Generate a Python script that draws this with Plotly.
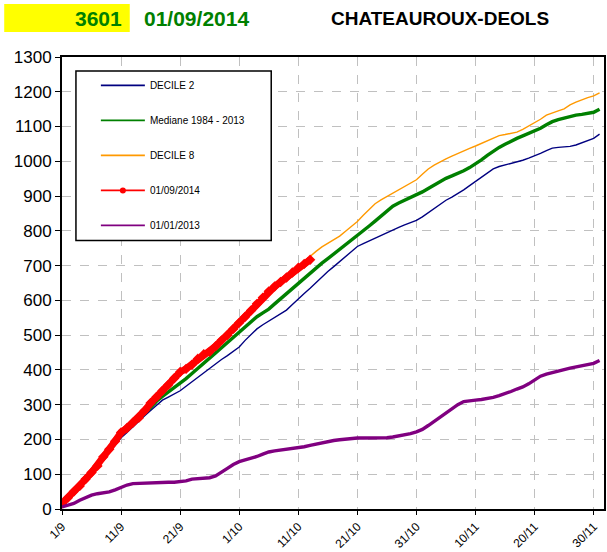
import plotly.graph_objects as go
import pandas as pd

# ---------------- data ----------------
start_date = "2014-09-01"
n_days = 92

decile2 = [10, 28, 48, 68, 88, 106, 126, 145, 163, 184,
           205, 220, 237, 253, 268, 283, 299, 313, 322, 331,
           340, 353, 366, 379, 392, 403, 416, 430, 441, 453,
           466, 485, 503, 518, 530, 541, 551, 561, 572, 588,
           605, 620, 635, 651, 668, 683, 697, 712, 726, 741,
           755, 763, 771, 780, 787, 795, 803, 810, 817, 823,
           830, 840, 852, 865, 877, 888, 897, 907, 918, 930,
           942, 953, 965, 978, 985, 989, 993, 997, 1003, 1009,
           1015, 1023, 1031, 1038, 1040, 1041, 1043, 1047, 1053, 1059,
           1066, 1078]

mediane = [10, 30, 50, 72, 90, 107, 128, 150, 170, 193,
           215, 229, 244, 258, 275, 292, 310, 324, 337, 349,
           360, 375, 390, 404, 419, 434, 449, 464, 479, 494,
           510, 524, 539, 553, 564, 575, 590, 605, 619, 634,
           648, 663, 677, 692, 707, 720, 733, 746, 760, 773,
           786, 800, 814, 828, 843, 857, 871, 880, 888, 895,
           902, 912, 922, 932, 942, 951, 958, 965, 973, 982,
           992, 1004, 1017, 1030, 1040, 1049, 1058, 1066, 1073, 1080,
           1086, 1095, 1105, 1114, 1120, 1125, 1130, 1133, 1135, 1138,
           1141, 1150]

decile8 = [15, 33, 52, 70, 90, 108, 127, 150, 172, 196,
           222, 236, 250, 264, 283, 303, 320, 338, 356, 375,
           393, 403, 415, 431, 443, 452, 467, 483, 499, 516,
           534, 551, 569, 588, 606, 624, 638, 652, 666, 681,
           697, 712, 727, 741, 754, 764, 773, 785, 799, 813,
           827, 845, 862, 878, 889, 899, 909, 918, 928, 937,
           947, 963, 978, 989, 999, 1007, 1015, 1023, 1030, 1037,
           1044, 1052, 1060, 1068, 1074, 1077, 1080, 1084, 1092, 1101,
           1110, 1121, 1133, 1138, 1145, 1151, 1162, 1170, 1177, 1183,
           1188, 1197]

annee_2014 = [16, 32, 50, 66, 86, 105, 124, 150, 172, 195,
              220, 233, 248, 262, 283, 305, 322, 340, 357, 376,
              394, 403, 415, 432, 445, 452, 468, 485, 500, 518,
              536, 553, 571, 590, 608, 626, 640, 653, 666, 680,
              694, 705, 717]

annee_2013 = [6, 10, 16, 25, 33, 40, 44, 46, 49, 55,
              62, 69, 73, 74, 75, 75, 76, 76, 77, 77,
              78, 81, 86, 88, 88, 90, 95, 105, 117, 128,
              136, 141, 145, 151, 158, 164, 167, 169, 171, 173,
              175, 179, 183, 187, 191, 194, 197, 199, 201, 203,
              204, 204, 204, 204, 204, 205, 207, 210, 214, 217,
              222, 229, 240, 252, 263, 275, 288, 300, 309, 312,
              313, 315, 317, 321, 326, 331, 338, 345, 351, 360,
              371, 382, 388, 393, 397, 401, 405, 408, 411, 414,
              419, 427]

tick_dates = ["2014-09-01", "2014-09-11", "2014-09-21", "2014-10-01", "2014-10-11",
              "2014-10-21", "2014-10-31", "2014-11-10", "2014-11-20", "2014-11-30"]
tick_labels = ["1/9", "11/9", "21/9", "1/10", "11/10", "21/10", "31/10", "10/11", "20/11", "30/11"]

series_names = ["DECILE 2", "Mediane 1984 - 2013", "DECILE 8", "01/09/2014", "01/01/2013"]
series_colors = ["#000080", "#008000", "#FF9900", "#FF0000", "#800080"]

# ---------------- figure ----------------
dates = pd.date_range(start_date, periods=n_days, freq="D")

FONT = "Liberation Sans, Arial, sans-serif"

fig = go.Figure()

# legend entries (thin lines, as in the original legend box)
for i, (nm, col) in enumerate(zip(series_names, series_colors)):
    fig.add_trace(go.Scatter(
        x=[None], y=[None], name=nm,
        mode="lines+markers" if i == 3 else "lines",
        line=dict(color=col, width=1.8),
        marker=dict(symbol="circle", size=6, color=col),
        legendgroup=f"g{i}", showlegend=True))

fig.add_trace(go.Scatter(x=dates, y=decile2, name=series_names[0], mode="lines",
                         line=dict(color=series_colors[0], width=1.4),
                         legendgroup="g0", showlegend=False))
fig.add_trace(go.Scatter(x=dates, y=mediane, name=series_names[1], mode="lines",
                         line=dict(color=series_colors[1], width=3.4),
                         legendgroup="g1", showlegend=False))
fig.add_trace(go.Scatter(x=dates, y=decile8, name=series_names[2], mode="lines",
                         line=dict(color=series_colors[2], width=1.4),
                         legendgroup="g2", showlegend=False))
fig.add_trace(go.Scatter(x=dates[:len(annee_2014)], y=annee_2014, name=series_names[3],
                         mode="lines+markers",
                         line=dict(color=series_colors[3], width=7),
                         marker=dict(symbol="diamond", size=8, color=series_colors[3]),
                         legendgroup="g3", showlegend=False))
fig.add_trace(go.Scatter(x=dates, y=annee_2013, name=series_names[4], mode="lines",
                         line=dict(color=series_colors[4], width=3.4),
                         legendgroup="g4", showlegend=False))

# plot area in pixels: left 62, right 606, top 57, bottom 510
L, R, T, B = 62, 606, 57, 510
W, H = 607, 552
pw, ph = R - L, B - T


def px(xp):
    return (xp - L) / pw


def py(yp):
    return (B - yp) / ph


shapes = [
    # legend box
    dict(type="rect", xref="paper", yref="paper", x0=px(76), x1=px(272), y0=py(241), y1=py(71),
         line=dict(color="black", width=1.5), fillcolor="white", layer="above"),
    # yellow header box
    dict(type="rect", xref="paper", yref="paper", x0=px(4), x1=px(130), y0=py(32), y1=py(4),
         line=dict(width=0), fillcolor="#FFFF00", layer="above"),
]

annotations = [
    dict(text="<b>3601</b>", xref="paper", yref="paper", x=px(124), y=py(18),
         xanchor="right", yanchor="middle", showarrow=False,
         font=dict(family=FONT, size=21, color="#008000")),
    dict(text="<b>01/09/2014</b>", xref="paper", yref="paper", x=px(142), y=py(18),
         xanchor="left", yanchor="middle", showarrow=False,
         font=dict(family=FONT, size=21, color="#008000")),
    dict(text="<b>CHATEAUROUX-DEOLS</b>", xref="paper", yref="paper", x=px(441), y=py(18),
         xanchor="center", yanchor="middle", showarrow=False,
         font=dict(family=FONT, size=19, color="black")),
]

fig.update_layout(
    width=W, height=H,
    margin=dict(l=L, r=W - R, t=T, b=H - B, pad=0),
    paper_bgcolor="white", plot_bgcolor="white",
    font=dict(family=FONT, color="black"),
    showlegend=True,
    legend=dict(x=px(96), y=py(71), xanchor="left", yanchor="top",
                bgcolor="rgba(0,0,0,0)", borderwidth=0,
                font=dict(family=FONT, size=10, color="black"),
                tracegroupgap=16, itemwidth=44),
    shapes=shapes,
    annotations=annotations,
)

fig.update_xaxes(
    type="date",
    range=["2014-09-01", "2014-12-01 18:00"],
    tickvals=tick_dates, ticktext=tick_labels, tickangle=-45,
    tickfont=dict(family=FONT, size=12, color="black"),
    showgrid=True, gridcolor="#C0C0C0", griddash="dash", gridwidth=1.3,
    showline=True, linecolor="black", linewidth=2, mirror=True,
    ticks="outside", ticklen=4, tickcolor="black", zeroline=False,
)
fig.update_yaxes(
    range=[0, 1300], tickvals=list(range(0, 1301, 100)),
    tickfont=dict(family=FONT, size=17, color="black"),
    showgrid=True, gridcolor="#C0C0C0", griddash="dash", gridwidth=1.3,
    showline=True, linecolor="black", linewidth=2, mirror=True,
    ticks="outside", ticklen=5, tickcolor="black", zeroline=False,
)

fig.write_html("out.html",
               config={"displayModeBar": False},
               post_script="document.body.style.margin='0px';document.body.style.overflow='hidden';")
